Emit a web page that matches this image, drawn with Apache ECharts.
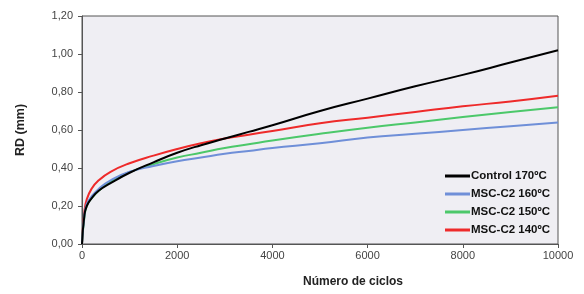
<!DOCTYPE html>
<html>
<head>
<meta charset="utf-8">
<script src="https://cdn.jsdelivr.net/npm/echarts@6/dist/echarts.min.js"></script>
<style>
  html, body { margin: 0; padding: 0; background: #fff; }
  #chart { width: 584px; height: 294px; }
</style>
</head>
<body>
<div id="chart"></div>
<script>
  // ciclos (eje x)
  var cycles = [0, 50, 100, 200, 350, 600, 1000, 1500, 2000, 2500, 3000, 3500, 4000, 5000, 6000, 7000, 8000, 9000, 10000];
  // RD (mm) por serie
  var control170 = [0, 0.15, 0.20, 0.24, 0.28, 0.32, 0.375, 0.43, 0.48, 0.52, 0.555, 0.59, 0.625, 0.70, 0.765, 0.83, 0.89, 0.955, 1.02];
  var msc160 = [0, 0.15, 0.21, 0.25, 0.29, 0.335, 0.38, 0.41, 0.435, 0.455, 0.475, 0.49, 0.505, 0.53, 0.56, 0.58, 0.60, 0.62, 0.64];
  var msc150 = [0, 0.14, 0.20, 0.24, 0.28, 0.33, 0.378, 0.42, 0.455, 0.48, 0.505, 0.525, 0.545, 0.58, 0.612, 0.64, 0.668, 0.695, 0.72];
  var msc140 = [0, 0.17, 0.235, 0.29, 0.335, 0.38, 0.425, 0.465, 0.50, 0.53, 0.555, 0.575, 0.595, 0.635, 0.665, 0.695, 0.725, 0.75, 0.78];
  var seriesNames = ['Control 170ºC', 'MSC-C2 160ºC', 'MSC-C2 150ºC', 'MSC-C2 140ºC'];
  var seriesColors = ['#000000', '#6f8fd8', '#4cc86a', '#ee2a2a'];

  function pairs(vals) {
    return cycles.map(function (c, i) { return [c, vals[i]]; });
  }

  var allData = [control170, msc160, msc150, msc140];
  var font = 'Liberation Sans, Arial, sans-serif';

  var chart = echarts.init(document.getElementById('chart'));
  chart.setOption({
    animation: false,
    textStyle: { fontFamily: font },
    grid: {
      left: 82, right: 26, top: 16, bottom: 50,
      show: true,
      backgroundColor: '#efeef3',
      borderColor: '#555',
      borderWidth: 1
    },
    legend: {
      orient: 'vertical',
      left: 440,
      top: 165,
      itemWidth: 25,
      itemHeight: 3,
      itemGap: 6,
      icon: 'rect',
      textStyle: { fontFamily: font, fontWeight: 'bold', fontSize: 11.5, color: '#111', padding: [0, 0, 0, -4] },
      data: seriesNames
    },
    xAxis: {
      type: 'value',
      min: 0, max: 10000, interval: 2000,
      name: 'Número de ciclos',
      nameLocation: 'middle',
      nameGap: 32,
      nameTextStyle: { fontFamily: font, fontWeight: 'bold', fontSize: 12, color: '#222', padding: [0, 0, 0, 66] },
      axisLine: { lineStyle: { color: '#555' } },
      axisTick: { show: true, length: 4, lineStyle: { color: '#555' } },
      axisLabel: {
        color: '#444', fontSize: 11, margin: 6,
        formatter: function (v) { return String(v); }
      },
      splitLine: { show: false }
    },
    yAxis: {
      type: 'value',
      min: 0, max: 1.2, interval: 0.2,
      name: 'RD (mm)',
      nameLocation: 'middle',
      nameGap: 55,
      nameTextStyle: { fontFamily: font, fontWeight: 'bold', fontSize: 12.5, color: '#222' },
      axisLine: { show: true, lineStyle: { color: '#555' } },
      axisTick: { show: true, length: 4, lineStyle: { color: '#555' } },
      axisLabel: {
        color: '#444', fontSize: 11, margin: 9,
        formatter: function (v) { return v.toFixed(2).replace('.', ','); }
      },
      splitLine: { show: false }
    },
    series: allData.map(function (d, i) {
      return {
        name: seriesNames[i],
        type: 'line',
        smooth: true,
        symbol: 'none',
        itemStyle: { color: seriesColors[i] },
        lineStyle: { width: 2, color: seriesColors[i] },
        z: 10 - i,
        data: pairs(d)
      };
    })
  });
</script>
</body>
</html>
